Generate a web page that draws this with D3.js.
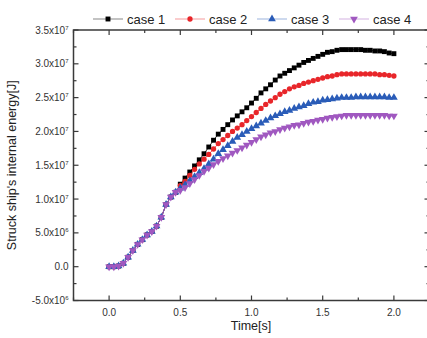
<!DOCTYPE html>
<html><head><meta charset="utf-8">
<script src="https://cdn.jsdelivr.net/npm/d3@7"></script>
<style>body{margin:0;background:#fff;} svg{display:block;font-family:Arial,"Liberation Sans",sans-serif;}</style>
</head><body>
<script>
const times = d3.range(0, 61).map(i => i / 30);
const common = [0.0,0.0,0.01,0.05,0.14,0.24,0.33,0.40,0.47,0.52,0.60,0.73,0.92,1.03,1.10];
const case1 = common.concat([1.22,1.31,1.40,1.49,1.58,1.67,1.77,1.87,1.96,2.03,2.10,2.17,2.23,2.29,2.35,2.42,2.49,2.57,2.63,2.69,2.76,2.82,2.86,2.90,2.94,2.98,3.02,3.05,3.08,3.11,3.14,3.17,3.18,3.20,3.21,3.21,3.21,3.21,3.21,3.20,3.20,3.19,3.19,3.18,3.16,3.15]);
const case2 = common.concat([1.20,1.26,1.35,1.44,1.52,1.59,1.66,1.74,1.82,1.88,1.94,2.00,2.05,2.10,2.16,2.22,2.28,2.34,2.40,2.45,2.50,2.55,2.59,2.63,2.66,2.68,2.71,2.73,2.75,2.77,2.79,2.81,2.82,2.84,2.85,2.85,2.85,2.85,2.85,2.85,2.85,2.85,2.84,2.84,2.83,2.82]);
const case3 = common.concat([1.16,1.21,1.27,1.33,1.39,1.45,1.52,1.59,1.67,1.73,1.79,1.85,1.91,1.95,2.00,2.04,2.08,2.12,2.16,2.20,2.23,2.26,2.29,2.31,2.34,2.36,2.38,2.41,2.43,2.44,2.46,2.47,2.48,2.49,2.50,2.50,2.50,2.51,2.51,2.51,2.51,2.51,2.51,2.51,2.50,2.50]);
const case4 = common.concat([1.13,1.17,1.23,1.29,1.35,1.41,1.46,1.51,1.56,1.60,1.64,1.68,1.72,1.76,1.80,1.84,1.88,1.92,1.95,1.98,2.00,2.03,2.05,2.07,2.09,2.10,2.12,2.14,2.15,2.17,2.18,2.20,2.21,2.22,2.23,2.24,2.24,2.24,2.24,2.24,2.24,2.24,2.24,2.24,2.23,2.23]);
const seriesNames = ["case 1","case 2","case 3","case 4"];
const seriesColors = ["#000000","#e8262a","#2a5cb8","#a058c0"];
const seriesSymbols = [d3.symbolSquare, d3.symbolCircle, d3.symbolTriangle, "down"];
const yTicks = [-0.5e7,0,0.5e7,1.0e7,1.5e7,2.0e7,2.5e7,3.0e7,3.5e7];
const yTickLabels = [["-5.0x10","6"],["0.0",""],["5.0x10","6"],["1.0x10","7"],["1.5x10","7"],["2.0x10","7"],["2.5x10","7"],["3.0x10","7"],["3.5x10","7"]];
const xTicks = [0,0.5,1.0,1.5,2.0];
const xTickLabels = ["0.0","0.5","1.0","1.5","2.0"];

const W=427,H=338;
const svg=d3.select("body").append("svg").attr("width",W).attr("height",H);
const L=73.5,R=429.5,T=30,B=300.5;
const x=d3.scaleLinear().domain([-0.25,2.25]).range([L,R]);
const y=d3.scaleLinear().domain([-0.5e7,3.5e7]).range([B,T]);
const axisColor="#3a3a3a", textColor="#333";

const series=[case1,case2,case3,case4];
const g=svg.append("g");
function sym(i,size){
  if(seriesSymbols[i]==="down") return {path:d3.symbol(d3.symbolTriangle,size)(), rot:180};
  return {path:d3.symbol(seriesSymbols[i],size)(), rot:0};
}
const sizes=[24,22,26,26];
[0,1,2,3].forEach(i=>{
  const s=series[i];
  const pts=times.map((t,j)=>[t,s[j]*1e7]);
  g.append("path").datum(pts).attr("fill","none").attr("stroke",seriesColors[i]).attr("stroke-width",0.8)
   .attr("d",d3.line().x(d=>x(d[0])).y(d=>y(d[1])));
  const sp=sym(i,sizes[i]);
  g.selectAll(null).data(pts).enter().append("path")
   .attr("d",sp.path).attr("fill",seriesColors[i])
   .attr("transform",d=>`translate(${x(d[0])},${y(d[1])}) rotate(${sp.rot})`);
});

// frame
svg.append("rect").attr("x",L).attr("y",T).attr("width",R-L).attr("height",B-T).attr("fill","none").attr("stroke",axisColor).attr("stroke-width",1.5);

// ticks
const xMinor=d3.range(-0.25,2.26,0.25);
const yMinor=d3.range(-0.5e7,3.51e7,0.25e7);
xMinor.forEach(v=>{
  const major=xTicks.some(t=>Math.abs(t-v)<1e-6);
  const len=major?5:3;
  svg.append("line").attr("x1",x(v)).attr("x2",x(v)).attr("y1",B).attr("y2",B-len).attr("stroke",axisColor).attr("stroke-width",1.2);
  svg.append("line").attr("x1",x(v)).attr("x2",x(v)).attr("y1",T).attr("y2",T+len).attr("stroke",axisColor).attr("stroke-width",1.2);
});
yMinor.forEach(v=>{
  const major=yTicks.some(t=>Math.abs(t-v)<1);
  const len=major?5:3;
  svg.append("line").attr("x1",L).attr("x2",L+len).attr("y1",y(v)).attr("y2",y(v)).attr("stroke",axisColor).attr("stroke-width",1.2);
  svg.append("line").attr("x1",R).attr("x2",R-len).attr("y1",y(v)).attr("y2",y(v)).attr("stroke",axisColor).attr("stroke-width",1.2);
});
// x labels
xTicks.forEach((t,i)=>{
  svg.append("text").attr("x",x(t)).attr("y",B+15).attr("text-anchor","middle").attr("font-size",10).attr("fill",textColor).text(xTickLabels[i]);
});
// y labels
yTicks.forEach((t,i)=>{
  const lab=yTickLabels[i];
  const tx=svg.append("text").attr("x",L-5).attr("y",y(t)+3.5).attr("text-anchor","end").attr("font-size",10).attr("fill",textColor);
  tx.append("tspan").text(lab[0]);
  if(lab[1]) tx.append("tspan").attr("font-size",6).attr("dy",-4).text(lab[1]);
});
svg.append("text").attr("x",251).attr("y",330).attr("text-anchor","middle").attr("font-size",12.5).attr("fill","#222").text("Time[s]");
svg.append("text").attr("transform",`translate(16,${(T+B)/2}) rotate(-90)`).attr("text-anchor","middle").attr("font-size",12.5).attr("fill","#222").text("Struck ship's internal energy[J]");

// legend
const legX=[93,175,257,339];
legX.forEach((lx,i)=>{
  const ly=19;
  svg.append("line").attr("x1",lx).attr("x2",lx+30).attr("y1",ly).attr("y2",ly).attr("stroke",seriesColors[i]).attr("stroke-opacity",0.6).attr("stroke-width",0.8);
  const sp=sym(i,sizes[i]);
  svg.append("path").attr("d",sp.path).attr("fill",seriesColors[i]).attr("transform",`translate(${lx+15},${ly}) rotate(${sp.rot})`);
  svg.append("text").attr("x",lx+34).attr("y",ly+4.5).attr("font-size",13).attr("fill","#222").text(seriesNames[i]);
});
</script>
</body></html>
